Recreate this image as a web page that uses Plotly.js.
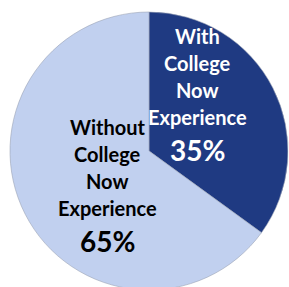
<!DOCTYPE html>
<html><head><meta charset="utf-8">
<script src="https://cdn.plot.ly/plotly-3.0.1.min.js"></script>
<style>html,body{margin:0;padding:0;overflow:hidden;background:#fff}</style>
</head><body><div id="chart"></div>
<script>
const categories = ['With College Now Experience', 'Without College Now Experience'];
const values = [35, 65];
const labelLines = [['With', 'College', 'Now', 'Experience'], ['Without', 'College', 'Now', 'Experience']];
const pctLabels = ['35%', '65%'];
const colors = ['#1F3A82', '#C1D0EF'];
const textColors = ['#FFFFFF', '#000000'];

const W = 289, H = 300;
const cx = 149, cy = 151, R = 139;
// label anchor positions (px from top-left), layout only
const anchors = [{x: 197, y: 36}, {x: 107, y: 127}];
const lineGap = 27, pctGap = 33;
const FONT = 'Lato, "Open Sans", sans-serif';

const annotations = [];
categories.forEach((c, i) => {
  labelLines[i].forEach((t, j) => {
    annotations.push({text: '<b>' + t + '</b>', xref: 'paper', yref: 'paper',
      x: anchors[i].x / W, y: 1 - (anchors[i].y + j * lineGap) / H,
      xanchor: 'center', yanchor: 'middle', showarrow: false,
      font: {family: FONT, size: 20, color: textColors[i]}});
  });
  annotations.push({text: '<b>' + pctLabels[i] + '</b>', xref: 'paper', yref: 'paper',
    x: anchors[i].x / W, y: 1 - (anchors[i].y + 3 * lineGap + pctGap) / H,
    xanchor: 'center', yanchor: 'middle', showarrow: false,
    font: {family: FONT, size: 28, color: textColors[i]}});
});

Plotly.newPlot('chart', [{
  type: 'pie', labels: categories, values: values, sort: false,
  direction: 'clockwise', rotation: 0, textinfo: 'none', hoverinfo: 'none',
  marker: {colors: colors, line: {color: '#9AA3B5', width: 0.6}},
  domain: {x: [(cx - R) / W, (cx + R) / W], y: [(H - cy - R) / H, (H - cy + R) / H]}
}], {
  width: W, height: H, margin: {l: 0, r: 0, t: 0, b: 0},
  showlegend: false, paper_bgcolor: '#fff', annotations: annotations
}, {staticPlot: true, displayModeBar: false});
</script></body></html>
